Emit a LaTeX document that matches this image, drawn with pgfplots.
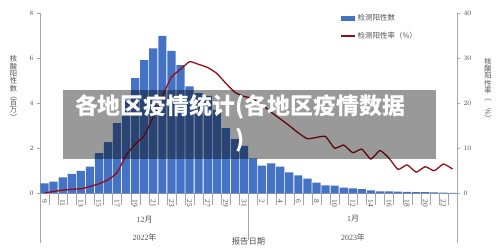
\documentclass[border=0pt]{standalone}
\usepackage{pgfplots}
\usepackage{pgfplotstable}
\usepackage{graphicx}
\pgfplotsset{compat=1.18}
\usepackage{fontspec}
\setmainfont{Liberation Serif}
\newfontfamily\cjk{Noto Sans CJK SC}
\newfontfamily\lsans{Liberation Sans}
\definecolor{barblue}{RGB}{68,114,196}
\definecolor{linered}{RGB}{150,12,24}
\definecolor{axgray}{RGB}{165,165,165}
\definecolor{txtgray}{RGB}{80,80,80}

\pgfplotstableread{
idx cnt rate
0 0.44 0.1
1 0.52 0.4
2 0.71 0.7
3 0.86 0.9
4 0.99 1.0
5 1.18 1.5
6 1.78 2.1
7 2.27 3.0
8 3.11 4.6
9 4.10 8.4
10 5.11 10.9
11 5.91 12.8
12 6.43 17.0
13 6.99 21.5
14 6.32 25.8
15 5.69 27.5
16 4.74 29.2
17 4.44 28.6
18 4.32 27.9
19 3.70 26.6
20 2.89 24.4
21 2.40 22.4
22 2.10 21.5
23 1.55 21.0
24 1.23 19.6
25 1.33 18.0
26 1.18 16.5
27 0.93 15.0
28 0.80 13.4
29 0.65 12.1
30 0.47 12.4
31 0.35 12.6
32 0.34 10.0
33 0.25 10.7
34 0.22 9.0
35 0.18 9.8
36 0.13 7.6
37 0.09 9.5
38 0.08 7.8
39 0.07 5.3
40 0.06 6.3
41 0.05 4.7
42 0.05 5.9
43 0.04 5.0
44 0.03 6.5
45 0.02 5.4
}\data

\begin{document}
\begin{tikzpicture}
\path[use as bounding box] (0bp,0bp) rectangle (500bp,251bp);
\begin{axis}[
  at={(40bp,57.7bp)}, anchor=south west,
  scale only axis, width=417bp, height=180.3bp,
  xmin=-0.5, xmax=45.5, ymin=0, ymax=8,
  axis x line*=bottom, axis y line*=left,
  axis line style={axgray},
  tick style={axgray},
  tick align=outside,
  major tick length=3bp, minor tick length=12bp,
  ytick={0,2,4,6,8},
  yticklabel style={font=\lsans\fontsize{7}{8}\selectfont, text=txtgray},
  xtick={0,2,...,44},
  xticklabels={9,11,13,15,17,19,21,23,25,27,29,31,2,4,6,8,10,12,14,16,18,20,22},
  minor xtick={-0.5,0.5,...,45.5},
  major x tick style={draw=none},
  xticklabel style={rotate=-90, anchor=west, inner sep=0pt, font=\fontsize{7.5}{8}\selectfont, text=txtgray},
  xticklabel shift=3bp,
  clip=false,
]
\addplot[ybar, bar width=8.2bp, fill=barblue, draw=none] table[x=idx,y=cnt]{\data};
\end{axis}
\begin{axis}[
  at={(40bp,57.7bp)}, anchor=south west,
  scale only axis, width=417bp, height=180.3bp,
  xmin=-0.5, xmax=45.5, ymin=0, ymax=40,
  axis x line=none, axis y line*=right,
  axis line style={axgray},
  tick style={axgray},
  tick align=outside,
  major tick length=3bp,
  ytick={0,10,20,30,40},
  yticklabel style={font=\lsans\fontsize{7}{8}\selectfont, text=txtgray},
  legend style={at={(0.72,1.005)}, anchor=north west, draw=none, fill=none,
    font=\cjk\fontsize{7.5}{8}\selectfont, text=txtgray, row sep=6bp,
    inner sep=0pt},
  legend cell align=left,
  clip=false,
]
\addlegendimage{legend image code/.code={\fill[barblue] (0bp,-2bp) rectangle (13bp,2bp);}}
\addlegendentry{检测阳性数}
\addplot[linered, line width=1.3bp, smooth, tension=0.3,
  legend image code/.code={\draw[linered, line width=1.3bp] (0bp,0bp) -- (14bp,0bp);}]
  table[x=idx,y=rate]{\data};
\addlegendentry{检测阳性率（\%）}
\end{axis}
% group separators
\draw[axgray] (40bp,57.7bp) -- (40bp,8bp);
\draw[axgray] (248.6bp,57.7bp) -- (248.6bp,11bp);
\draw[axgray] (457bp,57.7bp) -- (457bp,8bp);
\node[font=\fontsize{8}{9}\selectfont, text=txtgray] at (144.5bp,31bp) {12{\cjk 月}};
\node[font=\fontsize{8}{9}\selectfont, text=txtgray] at (144.5bp,14bp) {2022{\cjk 年}};
\node[font=\fontsize{8}{9}\selectfont, text=txtgray] at (353bp,32bp) {1{\cjk 月}};
\node[font=\fontsize{8}{9}\selectfont, text=txtgray] at (353bp,14bp) {2023{\cjk 年}};
\node[font=\cjk\fontsize{8.3}{9}\selectfont, text=txtgray, fill=none] at (248.5bp,9.5bp) {报告日期};
% axis titles
\node[font=\cjk\fontsize{7.3}{7.3}\selectfont, text=txtgray, align=center, inner sep=0pt] at (13.5bp,163bp) {核\\酸\\阳\\性\\数\\︵\\百\\万\\︶};
\node[font=\cjk\fontsize{7.3}{7.3}\selectfont, text=txtgray, align=center, inner sep=0pt] at (488bp,161bp) {核\\酸\\阳\\性\\率\\︵\\\rotatebox{-90}{\%}\\︶};
% overlay
\fill[black, opacity=0.4] (63.3bp,91.7bp) rectangle (435.7bp,161bp);
\node[font=\cjk\bfseries\fontsize{23}{33}\selectfont, text=white, align=center, inner sep=0pt] at (240bp,128bp) {各地区疫情统计(各地区疫情数据\\)};
\end{tikzpicture}
\end{document}
